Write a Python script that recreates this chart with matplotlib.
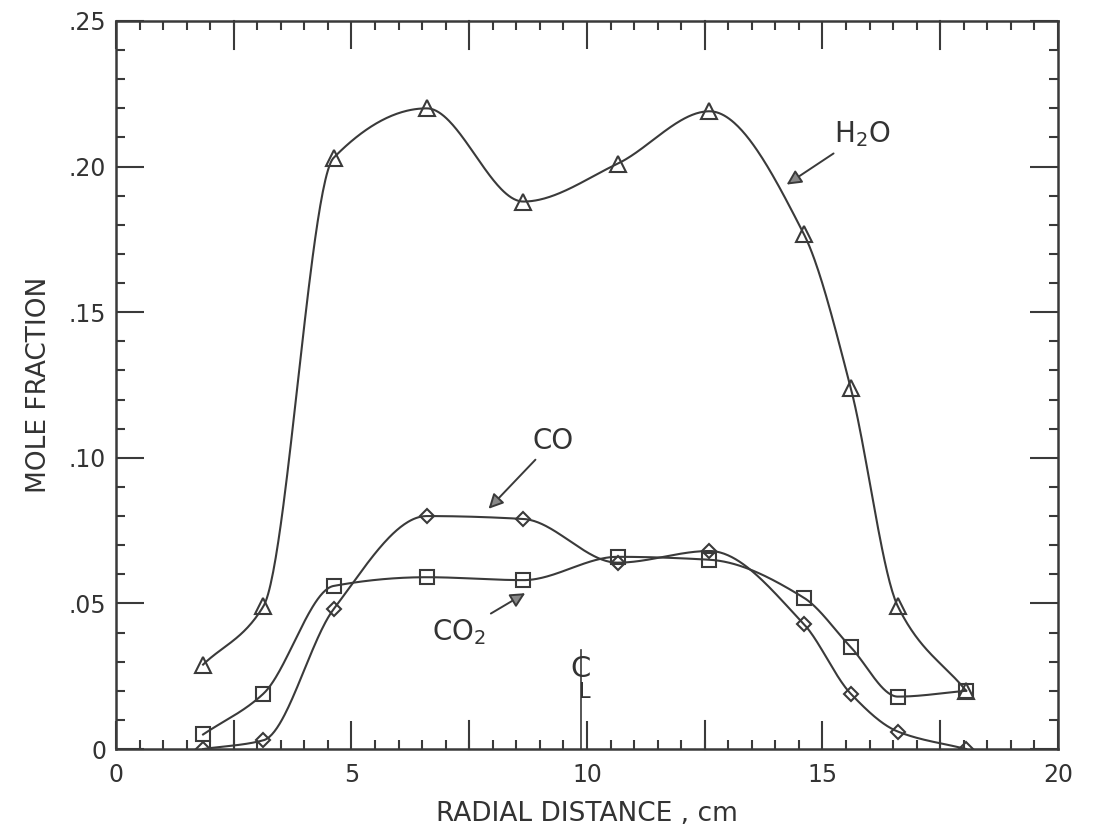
"""Mole fraction profiles across the radial distance (H2O, CO, CO2)."""
import matplotlib
matplotlib.use("Agg")
import matplotlib.pyplot as plt
import numpy as np

# Values
radial_cm = [1.85, 3.13, 4.62, 6.6, 8.65, 10.65, 12.6, 14.6, 15.6, 16.6, 18.05]
h2o = [0.029, 0.049, 0.203, 0.220, 0.188, 0.201, 0.219, 0.177, 0.124, 0.049, 0.020]
co = [0.000, 0.003, 0.048, 0.080, 0.079, 0.064, 0.068, 0.043, 0.019, 0.006, 0.000]
co2 = [0.005, 0.019, 0.056, 0.059, 0.058, 0.066, 0.065, 0.052, 0.035, 0.018, 0.020]
centerline_cm = 9.87

x_ticks = [0, 5, 10, 15, 20]
x_ticklabels = ["0", "5", "10", "15", "20"]
y_ticks = [0, 0.05, 0.10, 0.15, 0.20, 0.25]
y_ticklabels = ["0", ".05", ".10", ".15", ".20", ".25"]

INK = "#3a3a3a"


def pchip(x, y, xs):
    """Shape-preserving cubic (Fritsch-Carlson) through the points, like a french curve."""
    x = np.asarray(x, float)
    y = np.asarray(y, float)
    h = np.diff(x)
    d = np.diff(y) / h
    n = len(x)
    m = np.zeros(n)
    for k in range(1, n - 1):
        if d[k - 1] * d[k] <= 0:
            m[k] = 0.0
        else:
            w1 = 2 * h[k] + h[k - 1]
            w2 = h[k] + 2 * h[k - 1]
            m[k] = (w1 + w2) / (w1 / d[k - 1] + w2 / d[k])
    m[0] = d[0]
    m[-1] = d[-1]
    idx = np.clip(np.searchsorted(x, xs) - 1, 0, n - 2)
    t = (xs - x[idx]) / h[idx]
    h00 = 2 * t**3 - 3 * t**2 + 1
    h10 = t**3 - 2 * t**2 + t
    h01 = -2 * t**3 + 3 * t**2
    h11 = t**3 - t**2
    return h00 * y[idx] + h10 * h[idx] * m[idx] + h01 * y[idx + 1] + h11 * h[idx] * m[idx + 1]


fig = plt.figure(figsize=(10.96, 8.4), dpi=100)
ax = fig.add_axes([0.1058, 0.1083, 0.8595, 0.8667])

xs = np.linspace(radial_cm[0], radial_cm[-1], 600)
series = [(h2o, "^", 12), (co, "D", 7), (co2, "s", 10)]
for vals, marker, msize in series:
    ax.plot(xs, pchip(radial_cm, vals, xs), color=INK, lw=1.5, zorder=2)
    ax.plot(radial_cm, vals, linestyle="none", marker=marker, markersize=msize,
            markerfacecolor="none", markeredgecolor=INK, markeredgewidth=1.5, zorder=3)

ax.set_xlim(0, 20)
ax.set_ylim(0, 0.25)
ax.set_xticks(x_ticks)
ax.set_xticklabels(x_ticklabels)
ax.set_yticks(y_ticks)
ax.set_yticklabels(y_ticklabels)
ax.set_xticks(np.arange(0, 20.01, 0.5), minor=True)
ax.set_yticks(np.arange(0, 0.2501, 0.01), minor=True)

# long inward ticks every 2.5 cm on x (labels only every 5)
for xv in np.arange(2.5, 20, 5):
    ax.plot([xv, xv], [0, 28 / 2912], color=INK, lw=1.5, zorder=1, clip_on=False)
    ax.plot([xv, xv], [0.25, 0.25 - 28 / 2912], color=INK, lw=1.5, zorder=1, clip_on=False)

ax.tick_params(which="both", direction="in", top=True, right=True, color=INK, width=1.5)
ax.tick_params(which="major", length=20, labelsize=17, labelcolor="#333333")
ax.tick_params(which="minor", length=6.5)
ax.tick_params(axis="x", which="major", pad=10)
ax.tick_params(axis="y", which="major", pad=7)
for spine in ax.spines.values():
    spine.set_color(INK)
    spine.set_linewidth(1.8)

ax.set_xlabel("RADIAL DISTANCE , cm", fontsize=19, color="#333333", labelpad=10)
ax.set_ylabel("MOLE FRACTION", fontsize=19, color="#333333", labelpad=12)

arrow = dict(arrowstyle="-|>", color=INK, lw=1.4, mutation_scale=22, fc="#888888")
ax.annotate("H$_2$O", xy=(14.19, 0.1933), xytext=(15.25, 0.2060),
            fontsize=20, color="#333333", ha="left", va="bottom", arrowprops=arrow)
ax.annotate("CO", xy=(7.87, 0.0818), xytext=(8.85, 0.1010),
            fontsize=20, color="#333333", ha="left", va="bottom", arrowprops=arrow)
ax.annotate("CO$_2$", xy=(8.74, 0.054), xytext=(7.85, 0.040),
            fontsize=20, color="#333333", ha="right", va="center", arrowprops=arrow)

# centerline marker
ax.plot([centerline_cm, centerline_cm], [0, 0.034], color=INK, lw=1.2, zorder=2)
ax.text(centerline_cm, 0.0275, "C", fontsize=21, color="#333333", ha="center", va="center")
ax.text(centerline_cm - 0.03, 0.0195, "L", fontsize=15, color="#333333", ha="left", va="center")

fig.savefig("out.png", dpi=100, facecolor="white")
